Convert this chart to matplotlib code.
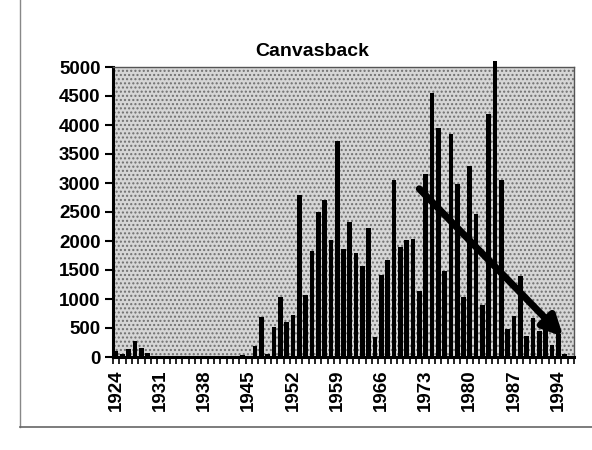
import numpy as np
import matplotlib
matplotlib.use("Agg")
import matplotlib.pyplot as plt
from matplotlib.lines import Line2D

plt.rcParams["font.family"] = ["Liberation Sans", "DejaVu Sans"]
plt.rcParams["font.weight"] = "bold"
plt.rcParams["hatch.linewidth"] = 1.0

# ── data
years = list(range(1924, 1997))
counts = [
    110, 60, 130, 270, 160, 70, 20,                        # 1924-1930
    15, 10, 20, 10, 15, 10, 10, 15, 10, 20, 15, 10,        # 1931-1942
    20, 40, 10,                                            # 1943-1945
    190, 690, 50, 520, 1030, 610, 720, 2800, 1070, 1830,   # 1946-1955
    2500, 2700, 2010, 3720, 1860, 2320, 1790, 1570, 2220,  # 1956-1964
    340, 1410, 1680, 3060, 1890, 2010, 2040, 1130, 3150,   # 1965-1973
    4560, 3940, 1480, 3840, 2990, 1040, 3290, 2460, 900,   # 1974-1982
    4190, 5100, 3050, 480, 700, 1400, 360, 670, 450,       # 1983-1991
    620, 200, 400, 50, 20,                                 # 1992-1996
]
label_years = list(range(1924, 1997, 7))
y_ticks = list(range(0, 5001, 500))

# trend arrow drawn on top of the bars (start year/value -> end year/value)
trend_start = (1972.0, 2900)
trend_end = (1994.8, 350)

W, H = 592, 450
fig = plt.figure(figsize=(W / 100, H / 100), dpi=100)
ax = fig.add_axes([113 / W, 1 - 357 / H, 461 / W, 290 / H])

x = np.arange(len(years))
ax.bar(x, counts, width=0.74, color="black", zorder=3, clip_on=False)

# dotted grey plot area like the old spreadsheet pattern
ax.set_facecolor("#d6d6d6")
ax.patch.set_hatch("....")
ax.patch.set_edgecolor("#707070")

ax.set_xlim(-0.5, len(years) - 0.5)
ax.set_ylim(0, 5000)

ax.set_yticks(y_ticks)
ax.set_yticklabels([str(v) for v in y_ticks], fontsize=13.5)
ax.tick_params(axis="y", direction="out", length=6, width=1.5, pad=3)

label_pos = [years.index(yr) for yr in label_years]
ax.set_xticks(label_pos)
ax.set_xticklabels([str(yr) for yr in label_years], rotation=90, fontsize=13.5)
ax.tick_params(axis="x", which="major", length=0, pad=9)
ax.set_xticks(np.arange(len(years) + 1) - 0.5, minor=True)
ax.tick_params(axis="x", which="minor", direction="out", length=5, width=1.2)

for side in ("left", "bottom"):
    ax.spines[side].set_linewidth(2.2)
    ax.spines[side].set_color("black")
for side in ("top", "right"):
    ax.spines[side].set_linewidth(1.0)
    ax.spines[side].set_color("#555555")

sx = years.index(1924) + (trend_start[0] - 1924)
ex = years.index(1924) + (trend_end[0] - 1924)
ax.annotate("", xy=(ex, trend_end[1]), xytext=(sx, trend_start[1]),
            arrowprops=dict(arrowstyle="-|>", color="black", lw=5,
                            mutation_scale=30, shrinkA=0, shrinkB=0),
            zorder=5)

fig.text(312 / W, 1 - 52 / H, "Canvasback", ha="center", va="center", fontsize=14)

# scanned page border lines
fig.add_artist(Line2D([20 / W, 20 / W], [1 - 427 / H, 1.0], color="#888888", lw=1.0))
fig.add_artist(Line2D([20 / W, 1.0], [1 - 427 / H, 1 - 427 / H], color="#666666", lw=1.2))

fig.savefig("out.png", dpi=100)
